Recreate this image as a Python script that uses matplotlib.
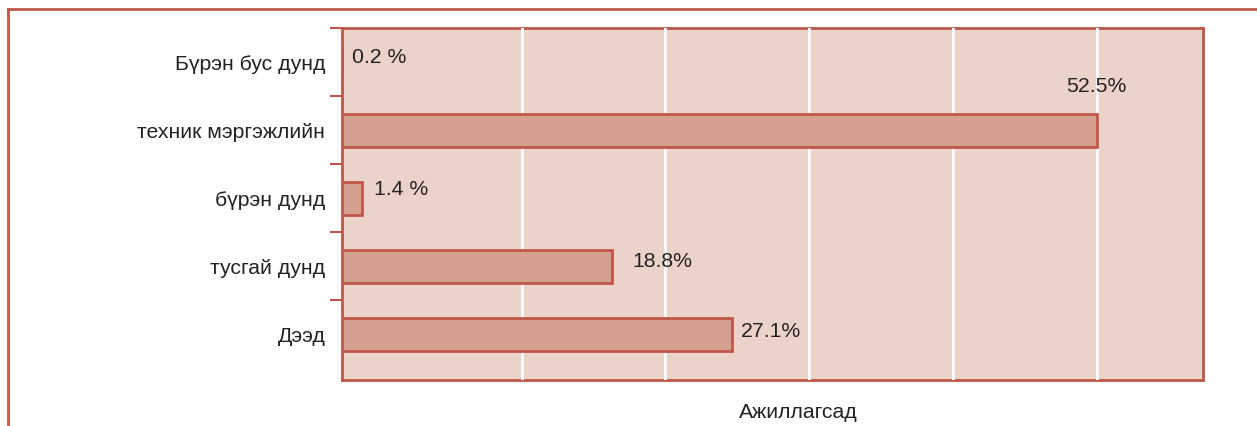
import matplotlib.pyplot as plt
from matplotlib.lines import Line2D
import numpy as np

plt.rcParams['font.family'] = ['Liberation Sans', 'DejaVu Sans']

# data (bottom to top)
categories = ['Дээд', 'тусгай дунд', 'бүрэн дунд', 'техник мэргэжлийн', 'Бүрэн бус дунд']
values = [27.1, 18.8, 1.4, 52.5, 0.2]
labels = ['27.1%', '18.8%', '1.4 %', '52.5%', '0.2 %']
# label offsets in points (dx, dy) from the end of each bar
label_offsets = [(6.5, 2), (14.4, 3.6), (8.6, 5.8), (0, 31), (5, 2.9)]
label_ha = ['left', 'left', 'left', 'center', 'left']
grid_x = [12.5, 22.5, 32.5, 42.5, 52.5]

red = '#c0574a'
bg = '#ecd3ca'
bar_fill = '#d4a08e'
txt = '#222222'
fs = 15.3

fig = plt.figure(figsize=(12.57, 4.26), dpi=100)
ax = fig.add_axes([342 / 1257, 1 - 380 / 426, (1203 - 342) / 1257, (380 - 28) / 426])
ax.set_facecolor(bg)

y = np.arange(len(categories))
# the tiny 0.2% bar is not visible in the source chart
shown = [v if v >= 0.5 else 0 for v in values]
ax.barh(y, shown, height=0.485, color=bar_fill, edgecolor=red, linewidth=2, zorder=3)
for xg in grid_x:
    ax.axvline(xg, color='white', linewidth=2, zorder=2.7)

for yi, v, lab, off, ha in zip(y, values, labels, label_offsets, label_ha):
    ax.annotate(lab, (v, yi), xytext=off, textcoords='offset points',
                ha=ha, va='center', fontsize=fs, color=txt)

ax.set_xlim(0, 59.9)
ax.set_ylim(-0.676, 4.5)
ax.set_xticks([])
ax.set_yticks(y)
ax.set_yticklabels(categories, fontsize=fs, color=txt)
ax.set_yticks(np.arange(len(categories)) + 0.5, minor=True)
ax.tick_params(axis='y', which='major', length=0, pad=12)
ax.tick_params(axis='y', which='minor', length=8.6, width=1.5, color=red)

for s in ax.spines.values():
    s.set_color(red)
    s.set_linewidth(2)
    s.set_zorder(2.5)

ax.set_xlabel('Ажиллагсад', fontsize=fs, color=txt)
ax.xaxis.set_label_coords(0.53, -0.065)

# outer frame lines
fig.add_artist(Line2D([8 / 1257, 1], [1 - 9 / 426, 1 - 9 / 426], color=red, linewidth=2))
fig.add_artist(Line2D([8 / 1257, 8 / 1257], [0, 1 - 9 / 426], color=red, linewidth=2))

fig.savefig('out.png', dpi=100)
